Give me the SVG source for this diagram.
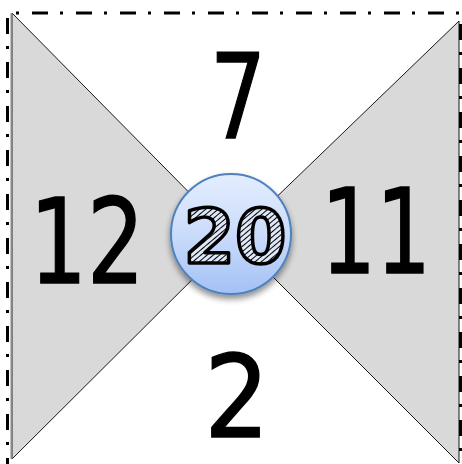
<svg xmlns="http://www.w3.org/2000/svg" width="462" height="464" viewBox="0 0 462 464">
<style>
.tri{fill:#d9d9d9;stroke:#000;stroke-width:0.9}
.border{stroke:#000;stroke-width:3;stroke-dasharray:16 12 3 13;fill:none}
.num{font-family:"DejaVu Sans",sans-serif;font-size:118px;fill:#000;stroke:#000;stroke-width:1.5;text-anchor:middle}
.center{font-family:"DejaVu Sans",sans-serif;font-weight:bold;font-size:74px;fill:url(#hatch);stroke:#000;stroke-width:3.5;stroke-linejoin:round;text-anchor:middle}
</style>
<defs>
<linearGradient id="cg" x1="0" y1="0" x2="0" y2="1">
<stop offset="0" stop-color="#e3edfd"/>
<stop offset="0.5" stop-color="#cbdcfb"/>
<stop offset="1" stop-color="#a3c1f6"/>
</linearGradient>
<pattern id="hatch" width="4" height="4" patternUnits="userSpaceOnUse" patternTransform="rotate(50)">
<rect width="4" height="4" fill="#dfe8f8"/>
<line x1="0" y1="0" x2="0" y2="4" stroke="#000" stroke-width="2"/>
</pattern>
<filter id="sh" x="-30%" y="-30%" width="160%" height="170%">
<feGaussianBlur in="SourceAlpha" stdDeviation="3"/>
<feOffset dx="0" dy="4" result="b"/>
<feComponentTransfer><feFuncA type="linear" slope="0.45"/></feComponentTransfer>
<feMerge><feMergeNode/><feMergeNode in="SourceGraphic"/></feMerge>
</filter>
</defs>
<g id="frame">
<line class="border" x1="7" y1="13" x2="462" y2="13" stroke-dashoffset="19"/>
<line class="border" x1="7.5" y1="18" x2="7.5" y2="464"/>
<line class="border" x1="460.5" y1="13" x2="460.5" y2="464" stroke-dashoffset="33"/>
</g>
<g id="left-triangle">
<polygon class="tri" points="12,13 234,238 12,459"/>
<line x1="11.5" y1="13" x2="11.5" y2="459" stroke="#888" stroke-width="2"/>
</g>
<g id="right-triangle">
<polygon class="tri" points="459,21 234,238 459,463"/>
</g>
<g id="top">
<text class="num" transform="translate(238,138) scale(0.747,1)">7</text>
</g>
<g id="left">
<text class="num" transform="translate(87,283) scale(0.767,1)">12</text>
</g>
<g id="right">
<text class="num" transform="translate(376,273) scale(0.733,1)">11</text>
</g>
<g id="bottom">
<text class="num" style="font-size:114px" transform="translate(237,437) scale(0.9,1)">2</text>
</g>
<g id="hub">
<circle cx="231" cy="234" r="60" fill="url(#cg)" stroke="#4f81bd" stroke-width="2" filter="url(#sh)"/>
<text class="center" x="235" y="263">20</text>
</g>
</svg>
